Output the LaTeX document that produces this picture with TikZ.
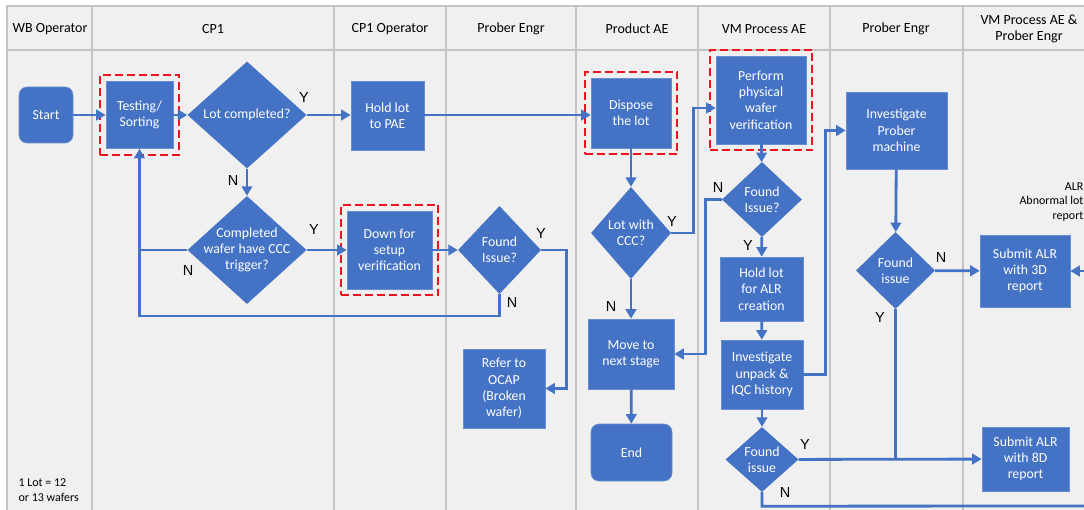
\documentclass[tikz,border=0pt]{standalone}
\usepackage{fontspec}
\setmainfont{Carlito}
\newfontfamily\ynfont{Liberation Sans}
\usetikzlibrary{positioning,shapes.geometric,arrows.meta,fit}

\definecolor{boxblue}{RGB}{68,114,196}
\definecolor{laneback}{RGB}{240,240,240}
\definecolor{laneline}{RGB}{196,196,196}
\definecolor{markred}{RGB}{235,20,30}

\tikzset{
  proc/.style={rectangle, fill=boxblue, draw=boxblue!80!white, line width=0.6pt, text=white, align=center, inner sep=0pt, font=\fontsize{13.8}{16.3}\selectfont},
  term/.style={proc, rounded corners=8pt},
  decide/.style={diamond, fill=boxblue, text=white, align=center, inner sep=-7pt, font=\fontsize{13.8}{16.3}\selectfont},
  flow/.style={draw=boxblue, line width=2.8pt, -{Triangle[length=9.5pt,width=10.5pt]}},
  link/.style={draw=boxblue, line width=2.8pt},
  yn/.style={font=\ynfont\fontsize{14.5}{16}\selectfont},
  lane/.style={font=\fontsize{14}{16}\selectfont, align=center},
  note/.style={font=\fontsize{12}{14.5}\selectfont},
  redbox/.style={draw=markred, dash pattern=on 8pt off 4pt, line width=1.9pt, inner sep=6pt}
}

\begin{document}
\begin{tikzpicture}[x=1pt,y=-1pt]
  \clip (0,0) rectangle (1084,510);
  \fill[white] (0,0) rectangle (1084,510);
  \fill[laneback] (7,6) rectangle (1095,520);
  \draw[laneline, line width=1.1pt] (7,520) -- (7,6) -- (1095,6);
  \draw[laneline, line width=1.1pt] (7,50) -- (1095,50);
  \foreach \x in {92,334,446,576,698,830,963}
    \draw[laneline, line width=1.1pt] (\x,6) -- (\x,520);

  % lane headers
  \node[lane] (hwb) at (50,29) {WB Operator};
  \node[lane] (hcp) at (213,29) {CP1};
  \node[lane] (hcpop) at (390,29) {CP1 Operator};
  \node[lane] (hpe) at (511,29) {Prober Engr};
  \node[lane] (hpae) at (637,29) {Product AE};
  \node[lane] (hvm) at (764,29) {VM Process AE};
  \node[lane] (hpe2) at (896,29) {Prober Engr};
  \node[lane] (hvmpe) at (1029,29) {VM Process AE \&\\Prober Engr};

  % steps
  \node[term, minimum width=54pt, minimum height=56pt] (start) at (46,115) {Start};
  \node[proc, minimum width=67pt, minimum height=67pt] (testing) at (139.5,115) {Testing/\\Sorting};
  \node[decide, minimum width=119pt, minimum height=107pt] (lotdone) at (247,115) {Lot completed?};
  \node[proc, minimum width=73pt, minimum height=69pt] (holdpae) at (387.5,116) {Hold lot\\to PAE};
  \node[decide, minimum width=119pt, minimum height=108pt] (ccc) at (247,250) {Completed\\wafer have CCC\\trigger?};
  \node[proc, minimum width=85pt, minimum height=78pt] (downset) at (389.5,250) {Down for\\setup\\verification};
  \node[decide, minimum width=83pt, minimum height=88pt] (foundA) at (499.5,250) {Found\\Issue?};
  \node[proc, minimum width=82pt, minimum height=79pt] (ocap) at (504,388.5) {Refer to\\OCAP\\(Broken\\wafer)};
  \node[proc, minimum width=80pt, minimum height=70pt] (dispose) at (631,113) {Dispose\\the lot};
  \node[decide, minimum width=80pt, minimum height=92pt] (lotccc) at (631,233) {Lot with\\CCC?};
  \node[proc, minimum width=86pt, minimum height=70pt] (move) at (631,354) {Move to\\next stage};
  \node[term, minimum width=81pt, minimum height=57pt] (finish) at (631.5,452.5) {End};
  \node[proc, minimum width=90pt, minimum height=88pt] (perform) at (761,100) {Perform\\physical\\wafer\\verification};
  \node[decide, minimum width=80pt, minimum height=75pt] (foundB) at (762,199.5) {Found\\Issue?};
  \node[proc, minimum width=83pt, minimum height=64pt] (holdalr) at (761.5,289) {Hold lot\\for ALR\\creation};
  \node[proc, minimum width=82pt, minimum height=69pt] (investB) at (762,374.5) {Investigate\\unpack \&\\IQC history};
  \node[decide, minimum width=73pt, minimum height=65pt] (foundC) at (762,459.5) {Found\\issue};
  \node[proc, minimum width=101pt, minimum height=77pt] (investP) at (896.5,130.5) {Investigate\\Prober\\machine};
  \node[decide, minimum width=79pt, minimum height=77pt] (foundD) at (895.5,270.5) {Found\\issue};
  \node[proc, minimum width=90pt, minimum height=72pt] (submit3) at (1025,271) {Submit ALR\\with 3D\\report};
  \node[proc, minimum width=87pt, minimum height=64pt] (submit8) at (1025.5,459) {Submit ALR\\with 8D\\report};

  % marked steps
  \node[redbox, fit=(testing)] (marktest) {};
  \node[redbox, fit=(downset)] (markdown) {};
  \node[redbox, fit=(dispose)] (markdisp) {};
  \node[redbox, fit=(perform)] (markperf) {};

  % notes
  \node[note, anchor=west, align=left] (lotsize) at (15,490) {1 Lot = 12\\or 13 wafers};
  \node[note, anchor=east, align=right] (alrnote) at (1087,202) {ALR\\Abnormal lot\\report};

  \coordinate (loop) at (139.5,316);
  \coordinate (edgeN) at (1095,506);
  \coordinate (edge3) at (1095,271);

  % connectors
  \draw[flow] (start) -- (testing);
  \draw[flow] (testing) -- (lotdone);
  \draw[flow] (lotdone) -- (holdpae.west |- lotdone.east);
  \draw[flow] (holdpae.east |- lotdone.east) -- (dispose.west |- lotdone.east);
  \draw[flow] (lotdone) -- (ccc);
  \draw[flow] (ccc) -- (downset);
  \draw[link] (ccc.west) -- (ccc.west -| loop);
  \draw[flow] (downset) -- (foundA);
  \draw[flow] (foundA.south) |- (loop) -- (testing.south);
  \draw[flow] (foundA.east) -- ++(25,0) |- (ocap.east);
  \draw[flow] (dispose) -- (lotccc);
  \draw[flow] (lotccc.east) -- ++(22,0) |- ([yshift=-8pt]perform.west);
  \draw[flow] (lotccc) -- (move);
  \draw[flow] (move) -- (finish);
  \draw[flow] (perform) -- (foundB);
  \draw[flow] (foundB.west) -- ++(-16,0) |- (move.east);
  \draw[flow] (foundB) -- (holdalr);
  \draw[flow] (holdalr) -- (investB);
  \draw[flow] (investB.east) -- ++(22,0) |- (investP.west);
  \draw[flow] (investB) -- (foundC);
  \draw[flow] (investP) -- (foundD);
  \draw[flow] (foundD) -- (submit3);
  \draw[flow] (foundC) -- (submit8);
  \draw[link] (foundD.south) -- (foundD.south |- foundC.east);
  \draw[link] (foundC.south) -- ++(0,14) -- (edgeN);
  \draw[flow] (edge3) -- (submit3.east);

  % answers
  \node[yn] (yA) at (304,98) {Y};
  \node[yn] (nA) at (233,181) {N};
  \node[yn] (yB) at (314,230) {Y};
  \node[yn] (nB) at (188,271) {N};
  \node[yn] (yC) at (541,234) {Y};
  \node[yn] (nC) at (512,303) {N};
  \node[yn] (yD) at (672,222) {Y};
  \node[yn] (nD) at (611,307) {N};
  \node[yn] (nE) at (718,188) {N};
  \node[yn] (yE) at (748,246) {Y};
  \node[yn] (nF) at (941,258) {N};
  \node[yn] (yF) at (880,318) {Y};
  \node[yn] (yG) at (805,445) {Y};
  \node[yn] (nG) at (785,493) {N};
\end{tikzpicture}
\end{document}
